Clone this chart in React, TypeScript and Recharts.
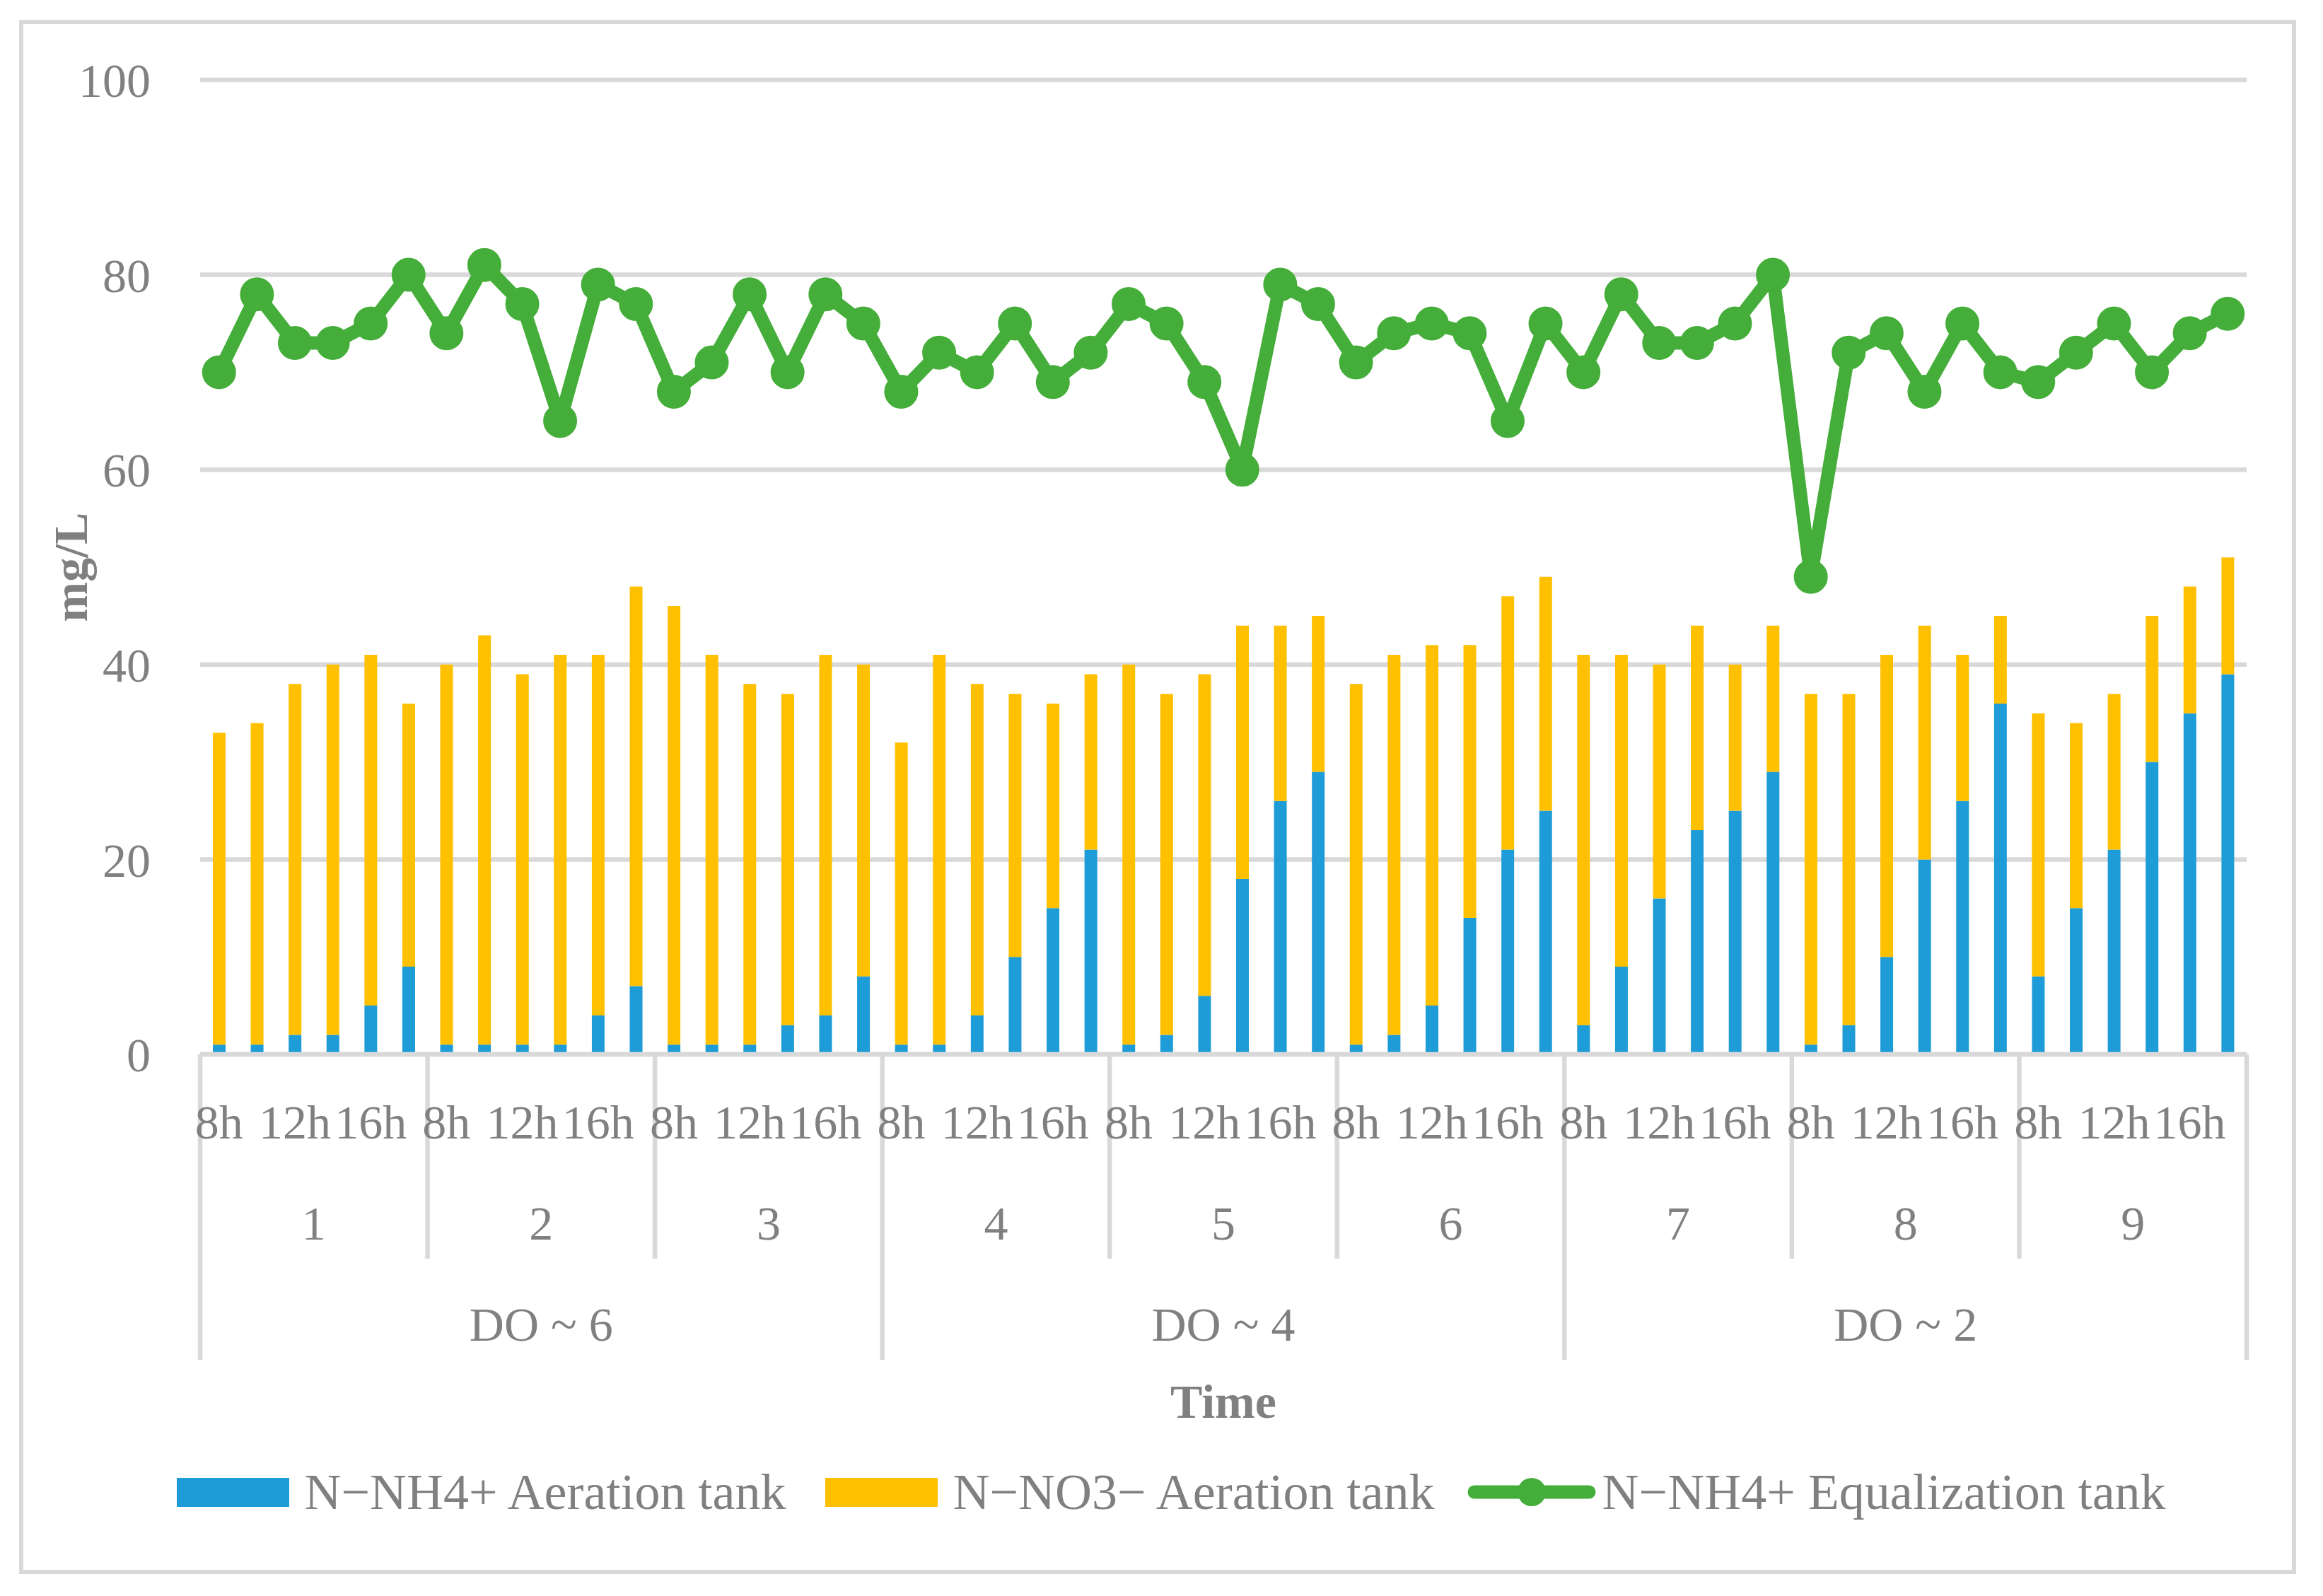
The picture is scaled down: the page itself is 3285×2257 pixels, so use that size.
import {
  Bar,
  CartesianGrid,
  ComposedChart,
  Legend,
  Line,
  XAxis,
  YAxis,
} from "recharts"

// readings per sampling slot, 9 runs x 6 samples
const runs = ["1", "2", "3", "4", "5", "6", "7", "8", "9"]
const doLevels = ["DO ~ 6", "DO ~ 4", "DO ~ 2"]
const slotLabels = ["8h", "", "12h", "", "16h", ""]
const yTicks = [0, 20, 40, 60, 80, 100]

const nh4Aeration = [
  1, 1, 2, 2, 5, 9,
  1, 1, 1, 1, 4, 7,
  1, 1, 1, 3, 4, 8,
  1, 1, 4, 10, 15, 21,
  1, 2, 6, 18, 26, 29,
  1, 2, 5, 14, 21, 25,
  3, 9, 16, 23, 25, 29,
  1, 3, 10, 20, 26, 36,
  8, 15, 21, 30, 35, 39,
]

const no3Aeration = [
  32, 33, 36, 38, 36, 27,
  39, 42, 38, 40, 37, 41,
  45, 40, 37, 34, 37, 32,
  31, 40, 34, 27, 21, 18,
  39, 35, 33, 26, 18, 16,
  37, 39, 37, 28, 26, 24,
  38, 32, 24, 21, 15, 15,
  36, 34, 31, 24, 15, 9,
  27, 19, 16, 15, 13, 12,
]

const nh4Equalization = [
  70, 78, 73, 73, 75, 80,
  74, 81, 77, 65, 79, 77,
  68, 71, 78, 70, 78, 75,
  68, 72, 70, 75, 69, 72,
  77, 75, 69, 60, 79, 77,
  71, 74, 75, 74, 65, 75,
  70, 78, 73, 73, 75, 80,
  49, 72, 74, 68, 75, 70,
  69, 72, 75, 70, 74, 76,
]

const seriesNames = [
  "N−NH4+ Aeration tank",
  "N−NO3− Aeration tank",
  "N−NH4+ Equalization tank",
]

const BLUE = "#1E9CD7"
const YELLOW = "#FFC000"
const GREEN = "#45AE3A"
const GRID = "#D9D9D9"
const TEXT = "#808080"
const FONT = "'Liberation Serif', 'Times New Roman', serif"
const FS = 68

const data = nh4Aeration.map((v, i) => ({
  key: `${runs[Math.floor(i / 6)]}-${i % 6}`,
  nh4: v,
  no3: no3Aeration[i],
  eq: nh4Equalization[i],
}))

function GroupTick(props: any) {
  const { x, y, index, payload } = props
  const half = payload?.offset || 26.8
  const slot = index % 6
  const run = Math.floor(index / 6)
  const isBlockStart = index % 18 === 0
  const left = x - half
  const lines: any[] = []
  const labels: any[] = []

  if (slot === 0) {
    lines.push(
      <line key="d" x1={left} x2={left} y1={y} y2={y + (isBlockStart ? 432 : 289)} stroke={GRID} strokeWidth={6.5} />
    )
    labels.push(
      <text key="g" x={left + 6 * half} y={y + 262} textAnchor="middle" fill={TEXT} fontSize={FS} fontFamily={FONT}>
        {runs[run]}
      </text>
    )
  }
  if (index === data.length - 1) {
    lines.push(
      <line key="r" x1={x + half} x2={x + half} y1={y} y2={y + 432} stroke={GRID} strokeWidth={6.5} />
    )
  }
  if (slotLabels[slot]) {
    labels.push(
      <text key="t" x={x} y={y + 119} textAnchor="middle" fill={TEXT} fontSize={FS} fontFamily={FONT}>
        {slotLabels[slot]}
      </text>
    )
  }
  if (isBlockStart) {
    labels.push(
      <text key="b" x={left + 18 * half} y={y + 405} textAnchor="middle" fill={TEXT} fontSize={FS} fontFamily={FONT}>
        {doLevels[Math.floor(index / 18)]}
      </text>
    )
  }
  return (
    <g>
      {lines}
      {labels}
    </g>
  )
}

const legendGaps = [0, 56, 46]

function LegendContent(props: any) {
  const payload = [...(props.payload || [])].sort(
    (a: any, b: any) => seriesNames.indexOf(a.value) - seriesNames.indexOf(b.value)
  )
  return (
    <div
      style={{
        display: "flex",
        justifyContent: "center",
        alignItems: "center",
        height: 80,
        paddingLeft: 28,
        fontFamily: FONT,
        fontSize: 72,
        color: TEXT,
        whiteSpace: "nowrap",
      }}
    >
      {payload.map((entry: any, i: number) => (
        <div
          key={entry.value}
          style={{ display: "flex", alignItems: "center", marginLeft: legendGaps[i] ?? 50 }}
        >
          {entry.type === "line" ? (
            <svg width={182} height={42} style={{ marginRight: 9 }}>
              <line x1={10} x2={172} y1={21} y2={21} stroke={entry.color} strokeWidth={19} strokeLinecap="round" />
              <circle cx={91} cy={21} r={20} fill={entry.color} />
            </svg>
          ) : (
            <span
              style={{ display: "inline-block", width: 159, height: 41, background: entry.color, marginRight: 21 }}
            />
          )}
          <span>{entry.value}</span>
        </div>
      ))}
    </div>
  )
}

export default function App() {
  return (
    <div style={{ position: "relative", width: 3285, height: 2257, background: "#fff" }}>
      <style>{"body{margin:0}"}</style>
      <div
        style={{
          position: "absolute",
          left: 27,
          top: 28,
          width: 3220,
          height: 2198,
          border: `6.5px solid ${GRID}`,
          boxSizing: "border-box",
          pointerEvents: "none",
        }}
      />
      <ComposedChart
        width={3285}
        height={2257}
        data={data}
        margin={{ top: 113, right: 108, bottom: 0, left: 0 }}
        barCategoryGap={0}
      >
        <CartesianGrid vertical={false} stroke={GRID} strokeWidth={6.5} />
        <XAxis
          dataKey="key"
          height={766}
          interval={0}
          tickLine={false}
          tickSize={0}
          tickMargin={0}
          axisLine={{ stroke: GRID, strokeWidth: 6.5 }}
          tick={(p: any) => <GroupTick {...p} />}
          label={(p: any) => {
            const vb = p.viewBox || {}
            const cx = (vb.x ?? 283) + (vb.width ?? 2894) / 2
            const y = (vb.y ?? 1491) + 514
            return (
              <text x={cx} y={y} textAnchor="middle" fill={TEXT} fontSize={FS} fontWeight="bold" fontFamily={FONT}>
                Time
              </text>
            )
          }}
        />
        <YAxis
          width={283}
          domain={[0, 100]}
          ticks={yTicks}
          axisLine={false}
          tickLine={false}
          tickSize={0}
          tickMargin={70}
          tick={{ fill: TEXT, fontSize: FS, fontFamily: FONT }}
          label={(p: any) => {
            const vb = p.viewBox || {}
            const cy = (vb.y ?? 113) + (vb.height ?? 1378) / 2
            return (
              <text
                x={100}
                y={cy}
                transform={`rotate(-90 100 ${cy})`}
                textAnchor="middle"
                dominantBaseline="central"
                fill={TEXT}
                fontSize={FS}
                fontWeight="bold"
                fontFamily={FONT}
              >
                mg/L
              </text>
            )
          }}
        />
        <Legend
          layout="horizontal"
          verticalAlign="middle"
          align="center"
          wrapperStyle={{ top: 2070, left: 0, width: 3285, height: 80 }}
          content={(p: any) => <LegendContent {...p} />}
        />
        <Bar
          dataKey="nh4"
          name={seriesNames[0]}
          stackId="a"
          fill={BLUE}
          barSize={18}
          legendType="rect"
          isAnimationActive={false}
        />
        <Bar
          dataKey="no3"
          name={seriesNames[1]}
          stackId="a"
          fill={YELLOW}
          barSize={18}
          legendType="rect"
          isAnimationActive={false}
        />
        <Line
          dataKey="eq"
          name={seriesNames[2]}
          type="linear"
          stroke={GREEN}
          strokeWidth={19}
          strokeLinejoin="round"
          dot={{ r: 23, fill: GREEN, stroke: GREEN, strokeWidth: 2 }}
          activeDot={false}
          legendType="line"
          isAnimationActive={false}
        />
      </ComposedChart>
    </div>
  )
}
